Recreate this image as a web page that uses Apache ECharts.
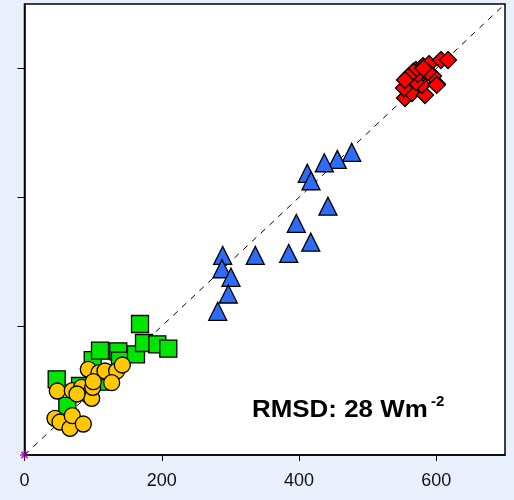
<!DOCTYPE html>
<html>
<head>
<meta charset="utf-8">
<script src="https://cdn.jsdelivr.net/npm/echarts@6/dist/echarts.min.js"></script>
<style>
  html, body { margin: 0; padding: 0; background: #eaf0fb; }
  #chart { width: 514px; height: 500px; }
</style>
</head>
<body>
<div id="chart"></div>
<script>
// Axis range and ticks (both axes share 0–700)
const axisMin = 0;
const axisMax = 700;
const tickStep = 200;
const xTickValues = [0, 200, 400, 600];
const yTickValues = [200, 400, 600];
const xTickLabels = ['0', '200', '400', '600'];

// Observed vs. modelled points, grouped by site [x, y]
const squarePoints = [
  [46.9, 117.5], [62.4, 76.1], [80.9, 107.1], [99.4, 147.4], [110.0, 161.9],
  [136.6, 160.9], [139.1, 146.4], [162.4, 156.3], [168.3, 203.3], [174.1, 173.8],
  [193.5, 171.8], [209.5, 165.0], [110.0, 113.8]
];
const circlePoints = [
  [44.4, 57.0], [51.7, 51.2], [66.3, 41.4], [69.6, 61.0], [85.7, 48.1],
  [47.8, 99.3], [69.6, 99.8], [83.3, 105.1], [92.9, 93.1], [97.9, 88.0],
  [99.4, 105.1], [92.9, 133.0], [108.5, 127.7], [117.3, 130.4], [134.3, 130.4],
  [142.5, 139.7], [127.0, 112.2], [100.2, 113.8], [76.5, 94.7]
];
const trianglePoints = [
  [476.7, 469.8], [455.7, 458.9], [436.8, 453.6], [412.0, 437.2], [417.4, 425.7],
  [442.1, 386.2], [396.0, 359.5], [417.0, 330.4], [384.9, 313.0], [336.2, 309.9],
  [288.7, 309.9], [287.7, 289.1], [300.8, 275.8], [296.9, 249.9], [281.5, 223.0]
];
const diamondPoints = [
  [554.3, 554.1], [564.5, 561.8], [561.6, 588.2], [570.3, 597.5], [580.5, 603.7],
  [589.3, 606.8], [606.7, 613.0], [617.0, 613.0], [600.9, 575.8], [595.1, 588.2],
  [583.4, 558.7], [579.1, 574.2], [570.3, 578.9], [587.8, 594.4], [573.2, 591.3],
  [552.8, 569.6], [566.4, 594.9], [559.1, 587.1], [554.3, 582.0], [581.0, 600.2],
  [600.5, 574.4]
];
const oneToOne = [[axisMin, axisMin], [axisMax, axisMax]];
const originMark = [[0, 0]];

const statText = 'RMSD: 28 Wm';
const statExponent = '-2';

const chart = echarts.init(document.getElementById('chart'), null, { renderer: 'canvas' });

const asterisk = 'path://M-0.8,-5L0.8,-5L0.8,5L-0.8,5Z M-5,-0.8L5,-0.8L5,0.8L-5,0.8Z ' +
  'M-4.1,-2.9L-2.9,-4.1L4.1,2.9L2.9,4.1Z M2.9,-4.1L4.1,-2.9L-2.9,4.1L-4.1,2.9Z';

function pointSeries(data, symbol, size, color) {
  return {
    type: 'scatter',
    data: data,
    symbol: symbol,
    symbolSize: size,
    itemStyle: { color: color, borderColor: '#000', borderWidth: 1.3, opacity: 1 },
    emphasis: { disabled: true },
    z: 3
  };
}

chart.setOption({
  backgroundColor: '#eaf0fb',
  animation: false,
  grid: {
    left: 24.5, right: 9, top: 4, bottom: 45,
    show: true, backgroundColor: '#fff', borderColor: '#000', borderWidth: 1.5
  },
  xAxis: {
    type: 'value', min: axisMin, max: axisMax, interval: tickStep,
    axisLine: { show: true, onZero: false, lineStyle: { color: '#000', width: 1.5 } },
    axisTick: { show: true, length: 6, customValues: xTickValues, lineStyle: { color: '#000', width: 1 } },
    splitLine: { show: false },
    axisLabel: {
      margin: 17, color: '#111', fontSize: 18, fontFamily: 'Liberation Sans, Arial, sans-serif',
      customValues: xTickValues,
      formatter: function (v) {
        const i = xTickValues.indexOf(v);
        return i >= 0 ? xTickLabels[i] : '';
      }
    }
  },
  yAxis: {
    type: 'value', min: axisMin, max: axisMax, interval: tickStep,
    axisLine: { show: true, onZero: false, lineStyle: { color: '#000', width: 1.5 } },
    axisTick: { show: true, length: 7, customValues: yTickValues, lineStyle: { color: '#000', width: 1 } },
    splitLine: { show: false },
    axisLabel: { show: false }
  },
  series: [
    {
      type: 'line', data: oneToOne, symbol: 'none', silent: true,
      lineStyle: { color: '#000', width: 1, type: [6, 6] }, z: 2
    },
    pointSeries(squarePoints, 'rect', 17, '#00e600'),
    pointSeries(circlePoints, 'circle', 16, '#ffc800'),
    pointSeries(trianglePoints, 'triangle', 18, '#2f6cf5'),
    pointSeries(diamondPoints, 'diamond', 17, '#ff0000'),
    {
      type: 'scatter', data: originMark, symbol: asterisk, symbolSize: 9,
      itemStyle: { color: '#8a0a9a' }, silent: true, z: 10,
      clip: false
    }
  ],
  graphic: [
    {
      type: 'text', left: 252, top: 398, scaleX: 1.08, z: 20,
      style: { text: statText, fill: '#000', font: 'bold 24px "Liberation Sans", Arial, sans-serif' }
    },
    {
      type: 'text', left: 431, top: 394, z: 20,
      style: { text: statExponent, fill: '#000', font: 'bold 15px "Liberation Sans", Arial, sans-serif' }
    }
  ]
});
</script>
</body>
</html>
